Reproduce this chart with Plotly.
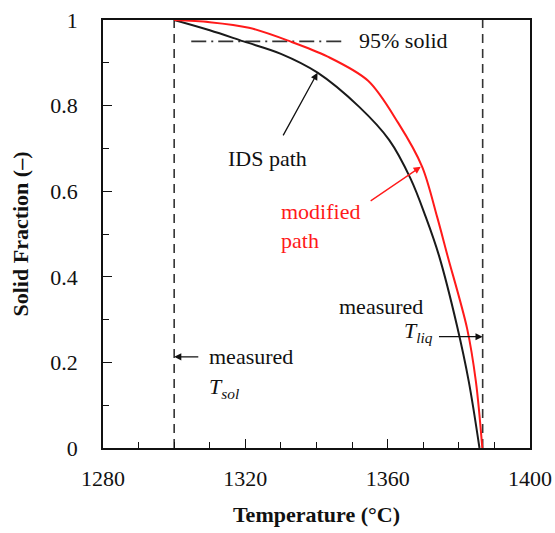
import plotly.graph_objects as go

# ---- data ----
ids_T = [1300, 1310, 1319.5, 1330, 1340.3, 1352, 1360.4, 1366.4, 1370.7, 1374.4, 1379.5, 1382.8, 1385.8]
ids_fs = [1.0, 0.976, 0.95, 0.921, 0.877, 0.797, 0.72, 0.63, 0.54, 0.45, 0.285, 0.155, 0.0]
mod_T = [1300, 1310, 1321, 1332.6, 1343, 1354.5, 1363, 1369.7, 1373.9, 1376.8, 1382.3, 1384.8, 1386.6]
mod_fs = [1.0, 0.995, 0.982, 0.95, 0.915, 0.858, 0.759, 0.657, 0.54, 0.45, 0.28, 0.155, 0.0]
T_sol = 1300
T_liq = 1386.7
fs_95 = 0.95
line95_T = [1304.8, 1348.2]
x_ticks = [1280, 1320, 1360, 1400]
y_ticks = [0, 0.2, 0.4, 0.6, 0.8, 1]
y_ticklabels = ["0", "0.2", "0.4", "0.6", "0.8", "1"]

FONT = "Liberation Serif"
FS = 22

fig = go.Figure()
fig.add_trace(go.Scatter(x=[T_sol, T_sol], y=[0, 1], mode="lines",
                         line=dict(color="#333", width=1.6, dash="9px,6px"), showlegend=False))
fig.add_trace(go.Scatter(x=[T_liq, T_liq], y=[0, 1], mode="lines",
                         line=dict(color="#333", width=1.6, dash="9px,6px"), showlegend=False))
fig.add_trace(go.Scatter(x=line95_T, y=[fs_95, fs_95], mode="lines",
                         line=dict(color="#333", width=1.6, dash="15px,5px,2px,5px"), showlegend=False))
fig.add_trace(go.Scatter(x=ids_T, y=ids_fs, mode="lines", line_shape="spline",
                         line=dict(color="#1a1a1a", width=2, smoothing=1), showlegend=False))
fig.add_trace(go.Scatter(x=mod_T, y=mod_fs, mode="lines", line_shape="spline",
                         line=dict(color="#ff1a1a", width=2, smoothing=0.9), showlegend=False))

def txt(x, y, s, xanchor="left", color="#111"):
    fig.add_annotation(x=x, y=y, xref="x", yref="y", text=s, showarrow=False,
                       xanchor=xanchor, yanchor="middle", align="left",
                       font=dict(family=FONT, size=FS, color=color))

def arrow(x0, y0, x1, y1, color="#111"):
    fig.add_annotation(x=x1, y=y1, ax=x0, ay=y0, xref="x", yref="y", axref="x", ayref="y",
                       text="", showarrow=True, arrowhead=2, arrowsize=1.1, arrowwidth=1.3,
                       arrowcolor=color, standoff=0, startstandoff=0)

txt(1351.4, 0.951, "95% solid")
txt(1326.3, 0.677, "IDS path", xanchor="center")
arrow(1330.4, 0.727, 1340.3, 0.877)
txt(1329.6, 0.518, "modified<br>path", color="#ff1a1a")
arrow(1354.8, 0.575, 1369.3, 0.657, color="#ff1a1a")
txt(1309.1, 0.213, "measured")
txt(1309.1, 0.14, "<i>T<sub>sol</sub></i>")
arrow(1307.2, 0.213, T_sol, 0.213)
txt(1370.4, 0.330, "measured", xanchor="right")
txt(1373.2, 0.272, "<i>T<sub>liq</sub></i>", xanchor="right")
arrow(1374.0, 0.26, T_liq, 0.26)

fig.update_layout(
    width=555, height=533, margin=dict(l=103, r=25, t=20, b=85),
    paper_bgcolor="white", plot_bgcolor="white",
    font=dict(family=FONT, size=FS, color="#111"),
    xaxis=dict(range=[1280, 1400], tickvals=x_ticks, ticktext=[str(v) for v in x_ticks],
               ticks="inside", ticklen=9, tickwidth=1.3, tickcolor="#111",
               minor=dict(dtick=10, tick0=1280, ticks="inside", ticklen=6, tickwidth=1.3, tickcolor="#111"),
               showline=True, linecolor="#111", linewidth=1.5, mirror=True,
               showgrid=False, zeroline=False, ticklabelstandoff=10, automargin=False,
               tickfont=dict(family=FONT, size=FS),
               title=dict(text="<b>Temperature (°C)</b>", standoff=16,
                          font=dict(family=FONT, size=FS))),
    yaxis=dict(range=[0, 1], tickvals=y_ticks, ticktext=y_ticklabels,
               ticks="inside", ticklen=9, tickwidth=1.3, tickcolor="#111",
               minor=dict(dtick=0.1, tick0=0, ticks="inside", ticklen=6, tickwidth=1.3, tickcolor="#111"),
               showline=True, linecolor="#111", linewidth=1.5, mirror=True,
               showgrid=False, zeroline=False, ticklabelstandoff=19, automargin=False,
               tickfont=dict(family=FONT, size=FS),
               title=dict(text="<b>Solid Fraction (–)</b>", standoff=16,
                          font=dict(family=FONT, size=FS))),
)
fig.write_html("out.html")
